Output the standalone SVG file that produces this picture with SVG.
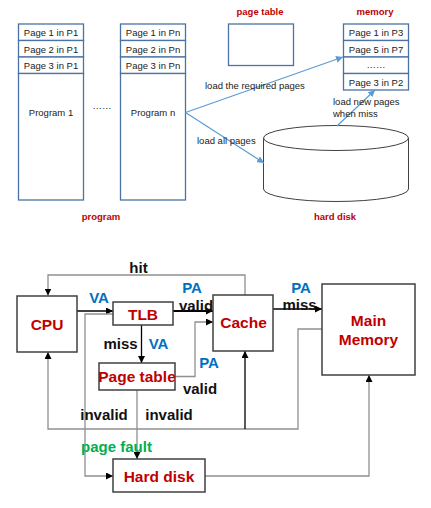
<svg xmlns="http://www.w3.org/2000/svg" width="431" height="508" viewBox="0 0 431 508">
<style>
.cell{fill:#fff;stroke:#4A72A4;stroke-width:1.3}
.t{font-family:"Liberation Sans",Arial,sans-serif;font-size:9.5px;fill:#222}
.title{font-family:"Liberation Sans",Arial,sans-serif;font-size:9.5px;font-weight:bold;fill:#C00000}
.node{fill:#fff;stroke:#404040;stroke-width:1.5}
.nm{font-family:"Liberation Sans",Arial,sans-serif;font-size:15.5px;font-weight:bold;fill:#C00000}
.lb{font-family:"Liberation Sans",Arial,sans-serif;font-size:15px;font-weight:bold;fill:#111}
.bl{font-family:"Liberation Sans",Arial,sans-serif;font-size:15px;font-weight:bold;fill:#0070C0}
.gr{font-family:"Liberation Sans",Arial,sans-serif;font-size:15px;font-weight:bold;fill:#00B050}
.blue{fill:none;stroke:#5B9BD5;stroke-width:1.2;marker-end:url(#ab)}
.k{fill:none;stroke:#000;marker-end:url(#ak)}
.g{fill:none;stroke:#909090;stroke-width:1.3;marker-end:url(#ak)}
</style>
<defs>
<marker id="ab" markerUnits="userSpaceOnUse" markerWidth="7" markerHeight="7" refX="7" refY="3.5" orient="auto"><path d="M0,0 L7,3.5 L0,7 z" fill="#5B9BD5"/></marker>
<marker id="ak" markerUnits="userSpaceOnUse" markerWidth="7" markerHeight="7" refX="7" refY="3.5" orient="auto"><path d="M0,0 L7,3.5 L0,7 z" fill="#000"/></marker>
</defs>
<rect width="431" height="508" fill="#fff"/>

<!-- top part -->
<g id="program1">
<rect class="cell" x="18.5" y="24" width="65" height="16.5"/>
<rect class="cell" x="18.5" y="40.5" width="65" height="16.5"/>
<rect class="cell" x="18.5" y="57" width="65" height="16.5"/>
<rect class="cell" x="18.5" y="73.5" width="65" height="126.5"/>
<text class="t" x="51" y="36" text-anchor="middle">Page 1 in P1</text>
<text class="t" x="51" y="52.5" text-anchor="middle">Page 2 in P1</text>
<text class="t" x="51" y="69" text-anchor="middle">Page 3 in P1</text>
<text class="t" x="51" y="116" text-anchor="middle">Program  1</text>
</g>
<text class="t" x="102" y="109" text-anchor="middle">……</text>
<g id="programn">
<rect class="cell" x="120.5" y="24" width="65" height="16.5"/>
<rect class="cell" x="120.5" y="40.5" width="65" height="16.5"/>
<rect class="cell" x="120.5" y="57" width="65" height="16.5"/>
<rect class="cell" x="120.5" y="73.5" width="65" height="126.5"/>
<text class="t" x="153" y="36" text-anchor="middle">Page 1 in Pn</text>
<text class="t" x="153" y="52.5" text-anchor="middle">Page 2 in Pn</text>
<text class="t" x="153" y="69" text-anchor="middle">Page 3 in Pn</text>
<text class="t" x="153" y="116" text-anchor="middle">Program  n</text>
</g>
<text class="title" x="101" y="220" text-anchor="middle">program</text>
<g id="pagetable">
<rect class="cell" x="228.5" y="24" width="65" height="41.5"/>
<text class="title" x="260" y="15" text-anchor="middle">page table</text>
</g>
<g id="memory">
<rect class="cell" x="343.5" y="24" width="65" height="16.5"/>
<rect class="cell" x="343.5" y="40.5" width="65" height="16.5"/>
<rect class="cell" x="343.5" y="57" width="65" height="16.5"/>
<rect class="cell" x="343.5" y="73.5" width="65" height="16.5"/>
<text class="t" x="376" y="36" text-anchor="middle">Page 1 in P3</text>
<text class="t" x="376" y="52.5" text-anchor="middle">Page 5 in P7</text>
<text class="t" x="376" y="68" text-anchor="middle">……</text>
<text class="t" x="376" y="85.5" text-anchor="middle">Page 3 in P2</text>
<text class="title" x="375" y="15" text-anchor="middle">memory</text>
</g>
<g id="harddisk">
<path d="M263.5,138 L263.5,189 A72.5,12.5 0 0 0 408.5,189 L408.5,138" fill="#fff" stroke="#404040" stroke-width="1"/>
<ellipse cx="336" cy="138" rx="72.5" ry="12.5" fill="#fff" stroke="#404040" stroke-width="1"/>
<text class="title" x="335" y="220" text-anchor="middle">hard disk</text>
</g>
<g id="top-connectors">
<line class="blue" x1="185.5" y1="112.5" x2="343" y2="57"/>
<line class="blue" x1="185.5" y1="112.5" x2="264" y2="163"/>
<line class="blue" x1="337" y1="126" x2="375" y2="90"/>
<text class="t" x="205" y="89">load the required pages</text>
<text class="t" x="197" y="144">load all pages</text>
<text class="t" x="333" y="105">load new pages</text>
<text class="t" x="333" y="117">when miss</text>
</g>

<!-- bottom part -->
<g id="connectors">
<polyline class="g" points="245,295 245,275 48,275 48,295.5"/>
<line class="k" x1="77" y1="311" x2="113" y2="311" stroke-width="1.3"/>
<line class="k" x1="173" y1="311" x2="213" y2="311" stroke-width="2"/>
<line class="k" x1="273" y1="309" x2="322" y2="309" stroke-width="1.5" stroke="#333"/>
<line class="k" x1="141.5" y1="325" x2="141.5" y2="363" stroke-width="1.3" stroke="#555"/>
<polyline class="g" points="175,376.5 195,376.5 195,322 213,322"/>
<line class="g" x1="137" y1="390" x2="137" y2="459"/>
<polyline class="g" points="113,314 85,314 85,476 113,476"/>
<polyline class="g" points="322,329 298,329 298,429 48,429 48,352"/>
<line class="k" x1="245" y1="429" x2="245" y2="351" stroke-width="1.3" stroke="#555"/>
<polyline class="g" points="205,476 369,476 369,375"/>
<text class="lb" x="138.5" y="273" text-anchor="middle">hit</text>
<text class="bl" x="99" y="303" text-anchor="middle">VA</text>
<text class="bl" x="192" y="292.5" text-anchor="middle">PA</text>
<text class="lb" x="196" y="311" text-anchor="middle">valid</text>
<text class="bl" x="301" y="292.5" text-anchor="middle">PA</text>
<text class="lb" x="299.5" y="309.5" text-anchor="middle">miss</text>
<text class="lb" x="120.5" y="349" text-anchor="middle">miss</text>
<text class="bl" x="158.5" y="349" text-anchor="middle">VA</text>
<text class="bl" x="209" y="368" text-anchor="middle">PA</text>
<text class="lb" x="200" y="394" text-anchor="middle">valid</text>
<text class="lb" x="104" y="420" text-anchor="middle">invalid</text>
<text class="lb" x="169" y="420" text-anchor="middle">invalid</text>
<text class="gr" x="116.5" y="451.5" text-anchor="middle">page fault</text>
</g>
<g id="cpu">
<rect class="node" x="17" y="296" width="60" height="56"/>
<text class="nm" x="47" y="329.5" text-anchor="middle">CPU</text>
</g>
<g id="tlb">
<rect class="node" x="113" y="302" width="60" height="23"/>
<text class="nm" x="143" y="319.5" text-anchor="middle">TLB</text>
</g>
<g id="cache">
<rect class="node" x="213" y="295" width="60" height="56"/>
<text class="nm" x="243.5" y="328" text-anchor="middle">Cache</text>
</g>
<g id="mainmemory">
<rect class="node" x="322" y="284" width="93" height="91"/>
<text class="nm" x="368.5" y="325.5" text-anchor="middle">Main</text>
<text class="nm" x="368.5" y="345" text-anchor="middle">Memory</text>
</g>
<g id="pagetable2">
<rect class="node" x="99" y="363" width="76" height="27"/>
<text class="nm" x="137" y="382" text-anchor="middle">Page table</text>
</g>
<g id="harddisk2">
<rect class="node" x="113" y="459" width="92" height="33"/>
<text class="nm" x="159" y="481.5" text-anchor="middle">Hard disk</text>
</g>
</svg>
